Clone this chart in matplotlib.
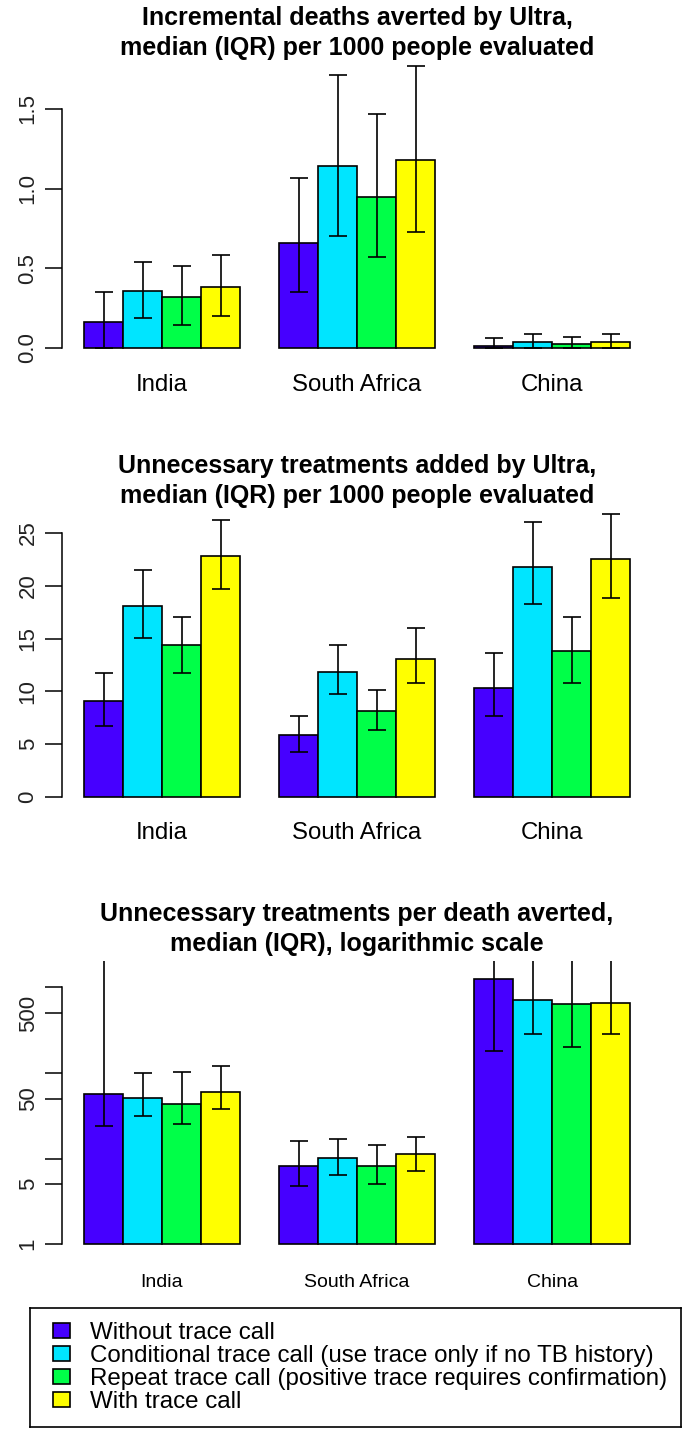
import numpy as np
import matplotlib
matplotlib.use('Agg')
import matplotlib.pyplot as plt
from matplotlib.patches import Patch

plt.rcParams['font.family'] = ['Liberation Sans', 'DejaVu Sans']

countries = ['India', 'South Africa', 'China']
scenarios = ['Without trace call',
             'Conditional trace call (use trace only if no TB history)',
             'Repeat trace call (positive trace requires confirmation)',
             'With trace call']
colors = ['#4600FF', '#00E5FF', '#00FF48', '#FFFF00']

# deaths averted per 1000 (rows = country, cols = scenario)
deaths_med = [[0.165, 0.356, 0.32, 0.38],
              [0.656, 1.14, 0.948, 1.18],
              [0.015, 0.037, 0.025, 0.037]]
deaths_lo = [[0.0, 0.19, 0.145, 0.20],
             [0.35, 0.704, 0.573, 0.729],
             [0.0, 0.0, 0.0, 0.0]]
deaths_hi = [[0.35, 0.54, 0.515, 0.585],
             [1.065, 1.71, 1.47, 1.767],
             [0.06, 0.085, 0.07, 0.085]]

# unnecessary treatments per 1000
treat_med = [[9.09, 18.09, 14.39, 22.85],
             [5.87, 11.87, 8.18, 13.1],
             [10.29, 21.78, 13.79, 22.5]]
treat_lo = [[6.72, 15.06, 11.71, 19.67],
            [4.23, 9.75, 6.38, 10.8],
            [7.64, 18.24, 10.8, 18.81]]
treat_hi = [[11.71, 21.46, 17.05, 26.2],
            [7.64, 14.39, 10.1, 15.97],
            [13.64, 26.04, 17.05, 26.8]]

# unnecessary treatments per death averted (log scale)
ratio_med = [[56.6, 51.2, 43.6, 59.7],
             [8.26, 10.2, 8.26, 11.3],
             [1234, 707, 635, 664]]
ratio_lo = [[24.1, 31.0, 25.2, 37.8],
            [4.78, 6.43, 5.04, 7.16],
            [180, 282, 199, 282]]
ratio_hi = [[5000, 98.7, 103.3, 121.4],
            [16.1, 16.8, 14.4, 17.7],
            [5000, 5000, 5000, 5000]]

W, H = 685, 1431
fig = plt.figure(figsize=(W / 100, H / 100), dpi=100)


def px_axes(x0, y0, x1, y1):
    # pixel box (top-left origin) -> figure axes
    return fig.add_axes([x0 / W, 1 - y1 / H, (x1 - x0) / W, (y1 - y0) / H])


def draw_panel(ax, med, lo, hi, title, title_y, ylim, yticks, yticklabels,
               label_size, label_pad, log=False):
    med = np.array(med)
    lo = np.array(lo)
    hi = np.array(hi)
    if log:
        ax.set_yscale('log')
    for k in range(4):
        xs = [1.5 + 5 * g + k for g in range(3)]
        bottom = 1 if log else 0
        ax.bar(xs, med[:, k] - bottom, bottom=bottom, width=1.0, color=colors[k],
               edgecolor='black', linewidth=1.2, zorder=2)
        ax.errorbar(xs, med[:, k], yerr=[med[:, k] - lo[:, k], hi[:, k] - med[:, k]],
                    fmt='none', ecolor='black', elinewidth=1.2, capsize=6.7,
                    capthick=1.2, zorder=3)
    ax.set_xlim(0.44, 15.56)
    ax.set_ylim(*ylim)
    for s in ['top', 'right', 'bottom']:
        ax.spines[s].set_visible(False)
    ax.spines['left'].set_bounds(yticks[0], yticks[-1])
    ax.spines['left'].set_linewidth(1.1)
    ax.set_yticks(yticks)
    ax.set_yticklabels(yticklabels, rotation=90, va='center', fontsize=16, color='#222222')
    ax.minorticks_off()
    ax.tick_params(axis='y', length=12, width=1.1, pad=5)
    ax.set_xticks([3, 8, 13])
    ax.set_xticklabels(countries, fontsize=label_size)
    ax.tick_params(axis='x', length=0, pad=label_pad)
    bb = ax.get_position()
    fig.text((bb.x0 + bb.x1) / 2, 1 - title_y / H, title, ha='center', va='center',
             fontsize=18, fontweight='bold', linespacing=1.27)


ax1 = px_axes(62.2, 54.5, 652, 359.2)
draw_panel(ax1, deaths_med, deaths_lo, deaths_hi,
           'Incremental deaths averted by Ultra,\nmedian (IQR) per 1000 people evaluated', 33,
           (-0.07, 1.84), [0, 0.5, 1.0, 1.5], ['0.0', '0.5', '1.0', '1.5'], 17.3, 11)

ax2 = px_axes(62.2, 502.4, 652, 808.6)
draw_panel(ax2, treat_med, treat_lo, treat_hi,
           'Unnecessary treatments added by Ultra,\nmedian (IQR) per 1000 people evaluated', 481,
           (-1.1, 27.9), [0, 5, 10, 15, 20, 25], ['0', '5', '10', '15', '20', '25'], 17.3, 10)

ax3 = px_axes(62.2, 961, 652, 1255)
draw_panel(ax3, ratio_med, ratio_lo, ratio_hi,
           'Unnecessary treatments per death averted,\nmedian (IQR), logarithmic scale', 929,
           (10 ** -0.127, 10 ** 3.307), [1, 5, 10, 50, 100, 500, 1000],
           ['1', '5', '', '50', '', '500', ''], 14, 14, log=True)

# legend box
lax = px_axes(30, 1308, 681, 1427)
lax.set_xticks([])
lax.set_yticks([])
for s in lax.spines.values():
    s.set_linewidth(1.2)
handles = [Patch(facecolor=c, edgecolor='black', linewidth=1.2) for c in colors]
lax.legend(handles, scenarios, loc='center left', bbox_to_anchor=(0.017, 0.5),
           frameon=False, fontsize=17.4, handlelength=0.7, handleheight=0.55,
           handletextpad=0.83, labelspacing=0.04, borderpad=0)

fig.savefig('out.png', dpi=100)
